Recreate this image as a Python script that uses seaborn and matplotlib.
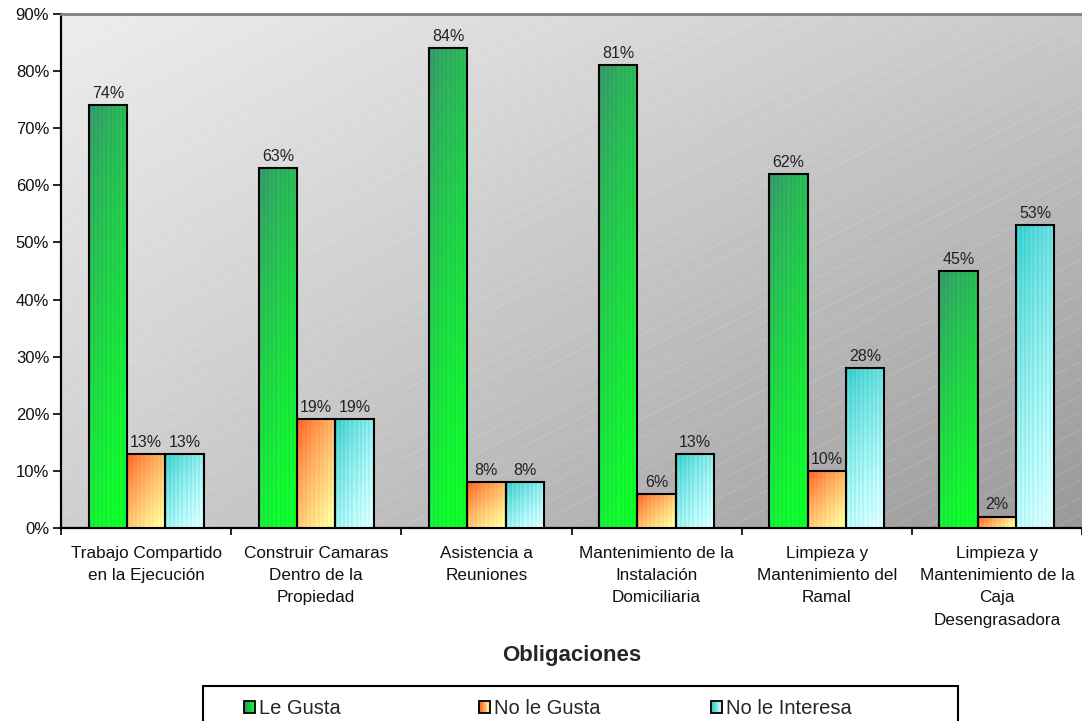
import numpy as np
import pandas as pd
import matplotlib
matplotlib.use("Agg")
import matplotlib.pyplot as plt
import seaborn as sns
from matplotlib.patches import Rectangle, Patch
from matplotlib.legend_handler import HandlerBase
from matplotlib.colors import to_rgb

# ---- data -------------------------------------------------------------
categories = [
    "Trabajo Compartido\nen la Ejecución",
    "Construir Camaras\nDentro de la\nPropiedad",
    "Asistencia a\nReuniones",
    "Mantenimiento de la\nInstalación\nDomiciliaria",
    "Limpieza y\nMantenimiento del\nRamal",
    "Limpieza y\nMantenimiento de la\nCaja\nDesengrasadora",
]
series = ["Le Gusta", "No le Gusta", "No le Interesa"]
le_gusta = [74, 63, 84, 81, 62, 45]
no_le_gusta = [13, 19, 8, 6, 10, 2]
no_le_interesa = [13, 19, 8, 13, 28, 53]
y_ticks = [0, 10, 20, 30, 40, 50, 60, 70, 80, 90]
x_title = "Obligaciones"

# gradient end colours per series (top-left -> bottom-right)
gradients = {
    "Le Gusta": ("#36926a", "#0cff26"),
    "No le Gusta": ("#ff5a1e", "#ffffa0"),
    "No le Interesa": ("#30c6c6", "#d8ffff"),
}

sns.set_theme(style="white")
plt.rcParams["font.family"] = ["Liberation Sans", "DejaVu Sans"]

df = pd.DataFrame({
    "Obligación": categories * len(series),
    "Serie": [s for s in series for _ in categories],
    "Valor": le_gusta + no_le_gusta + no_le_interesa,
})

W, H = 1082, 721
fig = plt.figure(figsize=(W / 100, H / 100), dpi=100)
fig.patch.set_facecolor("white")
ax = fig.add_axes([61 / W, 1 - 528 / H, 1 - 61 / W, (528 - 14) / H])

palette = {k: v[1] for k, v in gradients.items()}
sns.barplot(data=df, x="Obligación", y="Valor", hue="Serie",
            order=categories, hue_order=series, palette=palette,
            width=0.675, saturation=1, edgecolor="black", linewidth=1.5,
            legend=False, ax=ax, zorder=4)

ax.set_xlim(-0.5, len(categories) - 0.5)
ax.set_ylim(0, 90)

# ---- plot-area background: grey gradient with faint diagonal lines ----
ny, nx = 200, 400
yy, xx = np.mgrid[1:0:ny * 1j, 0:1:nx * 1j]
tl, tr, bl, br = 0.93, 0.79, 0.81, 0.60
bg = (tl * (1 - xx) * yy + tr * xx * yy + bl * (1 - xx) * (1 - yy) + br * xx * (1 - yy))
ax.imshow(np.dstack([bg, bg, bg]), extent=[0, 1, 0, 1], transform=ax.transAxes,
          aspect="auto", zorder=0, interpolation="bilinear")
slope = 1.03
for c in np.arange(-1.2, 1.0, 0.033):
    ax.plot([0, 1], [c, c + slope], transform=ax.transAxes, color="white",
            alpha=0.22, lw=0.7, zorder=1, linestyle=(0, (2, 1)))

# ---- gradient fills for the bars (diagonal, top-left dark) ------------
px_per_x = ax.get_window_extent().width / 6.0
px_per_y = ax.get_window_extent().height / 90.0
for cont, name in zip(ax.containers, series):
    c0 = np.array(to_rgb(gradients[name][0]))
    c1 = np.array(to_rgb(gradients[name][1]))
    for p in cont.patches:
        x0, w, h = p.get_x(), p.get_width(), p.get_height()
        wp, hp = w * px_per_x, max(h * px_per_y, 1.0)
        a = min(hp / (wp + hp), 0.75)
        if hp < 120:
            a = min(a, 0.55)
        nrows = max(int(hp / 2), 4)
        gy, gx = np.mgrid[0:1:nrows * 1j, 0:1:19j]
        t = np.clip(a * gy + (1 - a) * gx, 0, 1) ** 0.8
        img = c0[None, None, :] * (1 - t[..., None]) + c1[None, None, :] * t[..., None]
        stripes = 1 + 0.06 * (np.arange(19) % 2)
        img = np.clip(img * stripes[None, :, None], 0, 1)
        ax.imshow(img, extent=[x0, x0 + w, 0, h], aspect="auto", zorder=3,
                  interpolation="nearest", origin="upper")
        p.set_facecolor("none")
        p.set_zorder(4)

# ---- value labels -----------------------------------------------------
for cont in ax.containers:
    ax.bar_label(cont, labels=[f"{v:g}%" for v in cont.datavalues],
                 padding=3, fontsize=11.5, color="#222222", zorder=5)

# ---- axes styling -----------------------------------------------------
ax.set_xlim(-0.5, len(categories) - 0.5)
ax.set_ylim(0, 90)
ax.set_yticks(y_ticks)
ax.set_yticklabels([f"{t}%" for t in y_ticks], fontsize=12)
ax.set_xticks(range(len(categories)))
ax.set_xticklabels(categories, fontsize=12.3, linespacing=1.6)
ax.set_xticks(np.arange(-0.5, len(categories), 1), minor=True)
ax.tick_params(axis="x", which="major", length=0, pad=13, colors="#111111")
ax.tick_params(axis="x", which="minor", bottom=True, length=5, width=1.2,
               direction="out", color="black")
ax.tick_params(axis="y", left=True, length=6, width=1.2, pad=2.5,
               direction="out", color="black", labelcolor="#111111")
ax.set_xlabel("")
ax.set_ylabel("")
for side in ("left", "bottom"):
    ax.spines[side].set_color("black")
    ax.spines[side].set_linewidth(1.6)
ax.spines["top"].set_color("#808080")
ax.spines["top"].set_linewidth(2)
ax.spines["right"].set_visible(False)
ax.grid(False)

fig.text((61 + W) / 2 / W, 1 - 656 / H, x_title, ha="center", va="center",
         fontsize=16, fontweight="bold")


# ---- legend -----------------------------------------------------------
class GradientSquare(HandlerBase):
    def __init__(self, c0, c1):
        super().__init__()
        self.c0 = np.array(to_rgb(c0))
        self.c1 = np.array(to_rgb(c1))

    def create_artists(self, legend, orig_handle, xdescent, ydescent,
                       width, height, fontsize, trans):
        n = 8
        x0, y0 = -xdescent, -ydescent
        arts = []
        for k in range(n):
            t = k / (n - 1)
            col = self.c0 * (1 - t) + self.c1 * t
            arts.append(Rectangle((x0 + k * width / n, y0), width / n, height,
                                  facecolor=col, edgecolor="none", transform=trans))
        arts.append(Rectangle((x0, y0), width, height, facecolor="none",
                              edgecolor="black", lw=1.3, transform=trans))
        return arts


fig.add_artist(Rectangle((203 / W, 1 - 740 / H), (958 - 203) / W, (740 - 686) / H,
                         transform=fig.transFigure, fill=False,
                         edgecolor="black", lw=1.5))
legend_x = [244, 479, 711]
for name, lx in zip(series, legend_x):
    h = Patch(label=name)
    fig.legend(handles=[h], labels=[name],
               handler_map={h: GradientSquare(*gradients[name])},
               loc="center left", bbox_to_anchor=(lx / W, 1 - 709 / H),
               frameon=False, fontsize=14.5, borderpad=0, borderaxespad=0,
               handlelength=0.55, handleheight=0.55, handletextpad=0.2)

fig.savefig("out.png", dpi=100)
